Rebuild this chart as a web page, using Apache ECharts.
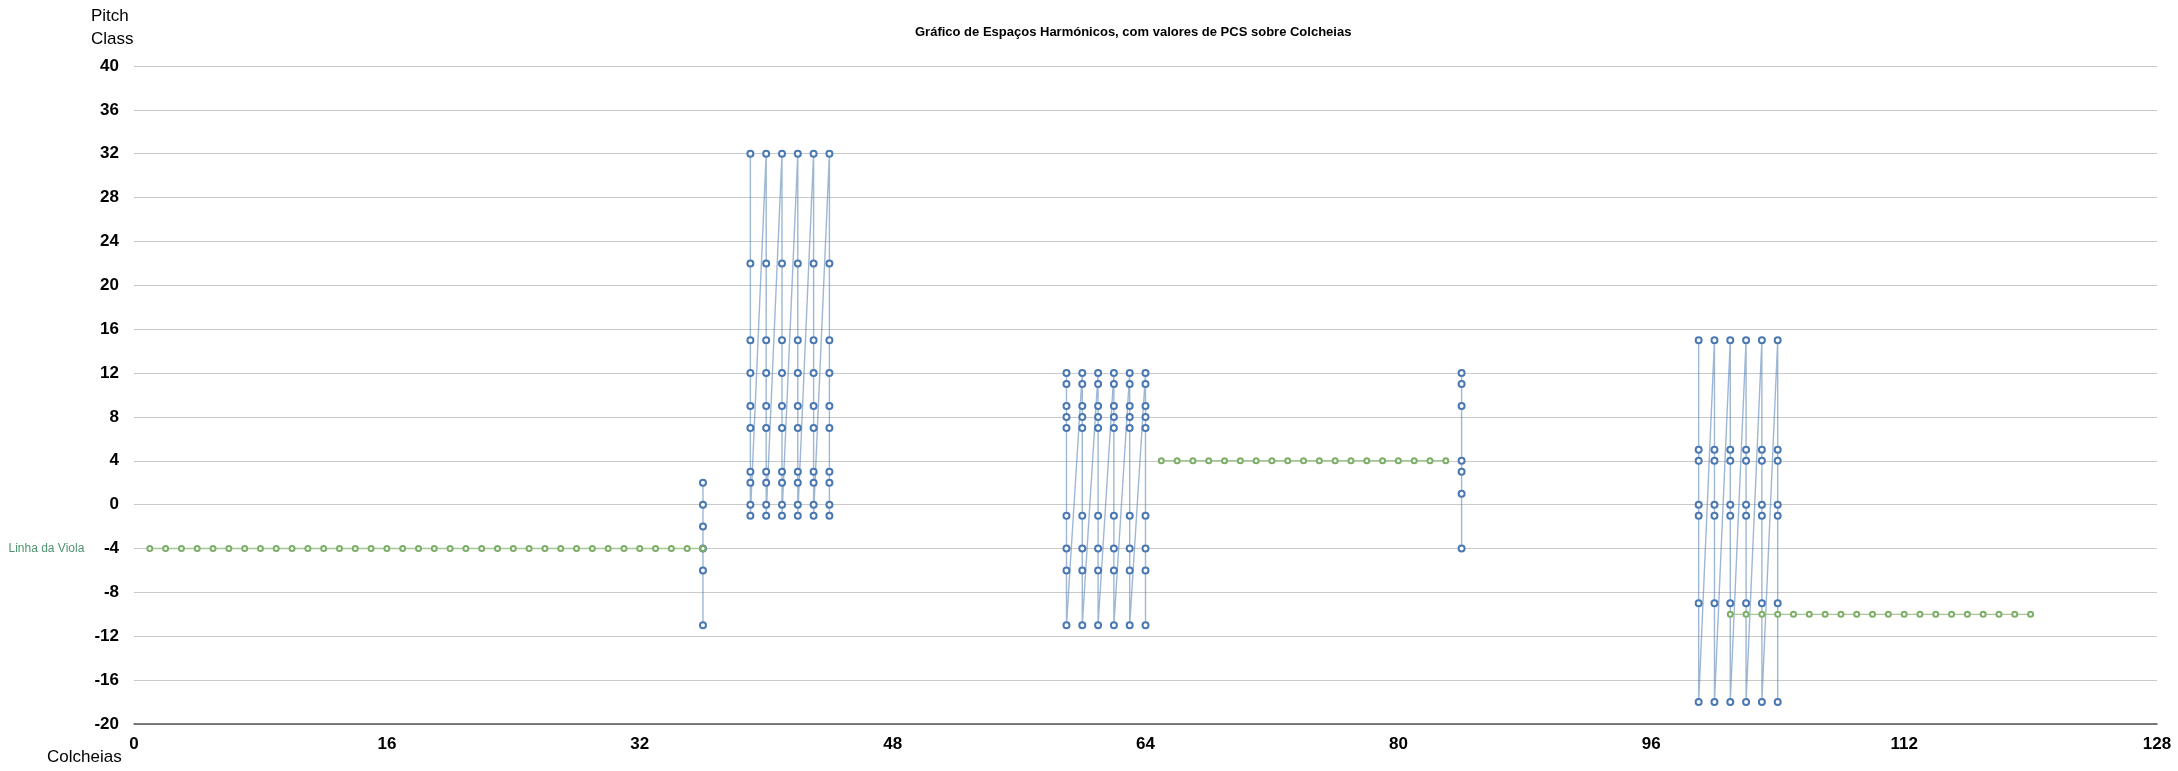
<!DOCTYPE html>
<html>
<head>
<meta charset="utf-8">
<script src="https://cdn.jsdelivr.net/npm/echarts@6/dist/echarts.min.js"></script>
<style>
html,body{margin:0;padding:0;background:#fff;}
#chart{width:2178px;height:771px;}
</style>
</head>
<body>
<div id="chart"></div>
<script>
// ---- Data ----
const chartTitle = 'Gráfico de Espaços Harmónicos, com valores de PCS sobre Colcheias';
const yAxisName = ['Pitch', 'Class'];
const xAxisName = 'Colcheias';
const violaLabel = 'Linha da Viola';

// Harmonic blocks: columns (x = colcheia) and the pitch classes stacked in each column (top -> bottom)
const blockA_cols = [36];
const blockA_pcs = [2, 0, -2, -4, -6, -11];
const blockB_cols = [39, 40, 41, 42, 43, 44];
const blockB_pcs = [32, 22, 15, 12, 9, 7, 3, 2, 0, -1];
const blockC_cols = [59, 60, 61, 62, 63, 64];
const blockC_pcs = [12, 11, 9, 8, 7, -1, -4, -6, -11];
const blockD_cols = [84];
const blockD_pcs = [12, 11, 9, 4, 3, 1, -4];
const blockE_cols = [99, 100, 101, 102, 103, 104];
const blockE_pcs = [15, 5, 4, 0, -1, -9, -18];

// Viola line segments
const violaA_x = [1,2,3,4,5,6,7,8,9,10,11,12,13,14,15,16,17,18,19,20,21,22,23,24,25,26,27,28,29,30,31,32,33,34,35,36];
const violaA_pc = [-4];
const violaB_x = [65,66,67,68,69,70,71,72,73,74,75,76,77,78,79,80,81,82,83];
const violaB_pc = [4];
const violaC_x = [101,102,103,104,105,106,107,108,109,110,111,112,113,114,115,116,117,118,119,120];
const violaC_pc = [-10];

const xTicks = {min: 0, max: 128, interval: 16};
const yTicks = {min: -20, max: 40, interval: 4};

// ---- Build ----
function blockData(cols, pcs) {
  const d = [];
  cols.forEach(c => pcs.forEach(p => d.push([c, p])));
  return d;
}
function segData(xs, pc) { return xs.map(x => [x, pc[0]]); }

const blue = '#4a78b0';
const green = '#7dae68';

const blocks = [
  [blockA_cols, blockA_pcs], [blockB_cols, blockB_pcs], [blockC_cols, blockC_pcs],
  [blockD_cols, blockD_pcs], [blockE_cols, blockE_pcs]
];
const series = [];
blocks.forEach(b => {
  series.push({
    type: 'line', data: blockData(b[0], b[1]), z: 2,
    symbol: 'emptyCircle', symbolSize: 6, showSymbol: true,
    itemStyle: {color: blue, borderColor: blue, borderWidth: 1.5},
    lineStyle: {color: 'rgba(79,124,179,0.55)', width: 1.4},
    animation: false, silent: true
  });
});
[[violaA_x, violaA_pc], [violaB_x, violaB_pc], [violaC_x, violaC_pc]].forEach((s, i) => {
  const data = segData(s[0], s[1]);
  if (i === 0) {
    data[0] = {value: data[0], label: {show: true, position: 'left', distance: 62, formatter: violaLabel,
      color: '#4f9470', fontSize: 12, fontFamily: 'Liberation Sans, Arial, sans-serif'}};
  }
  series.push({
    type: 'line', data: data, z: 3,
    symbol: 'emptyCircle', symbolSize: 5, showSymbol: true,
    itemStyle: {color: green, borderColor: green, borderWidth: 1.5},
    lineStyle: {color: '#a5c995', width: 1.4},
    animation: false, silent: true
  });
});

const chart = echarts.init(document.getElementById('chart'), null, {renderer: 'canvas'});
const font = 'Liberation Sans, Arial, Helvetica, sans-serif';
chart.setOption({
  backgroundColor: '#fff',
  animation: false,
  title: {
    text: chartTitle, left: 910, top: 21,
    textStyle: {fontSize: 13, fontWeight: 'bold', color: '#000', fontFamily: font}
  },
  grid: {left: 134, right: 21, top: 66, bottom: 47, containLabel: false},
  xAxis: {
    type: 'value', min: xTicks.min, max: xTicks.max, interval: xTicks.interval,
    axisLine: {show: true, onZero: false, lineStyle: {color: '#555', width: 1.5}},
    axisTick: {show: false},
    splitLine: {show: false},
    axisLabel: {margin: 12, fontSize: 17, fontWeight: 'bold', color: '#000', fontFamily: font}
  },
  yAxis: {
    type: 'value', min: yTicks.min, max: yTicks.max, interval: yTicks.interval,
    axisLine: {show: false},
    axisTick: {show: false},
    splitLine: {show: true, lineStyle: {color: '#c9c9c9', width: 1.2}},
    axisLabel: {margin: 15, fontSize: 17, fontWeight: 'bold', color: '#000', fontFamily: font}
  },
  graphic: [
    {type: 'text', left: 91, top: 5, style: {text: yAxisName.join('\n'), font: '17px ' + font, fill: '#000', lineHeight: 23}},
    {type: 'text', left: 47, top: 749, style: {text: xAxisName, font: '17px ' + font, fill: '#000'}}
  ],
  series: series
});
</script>
</body>
</html>
